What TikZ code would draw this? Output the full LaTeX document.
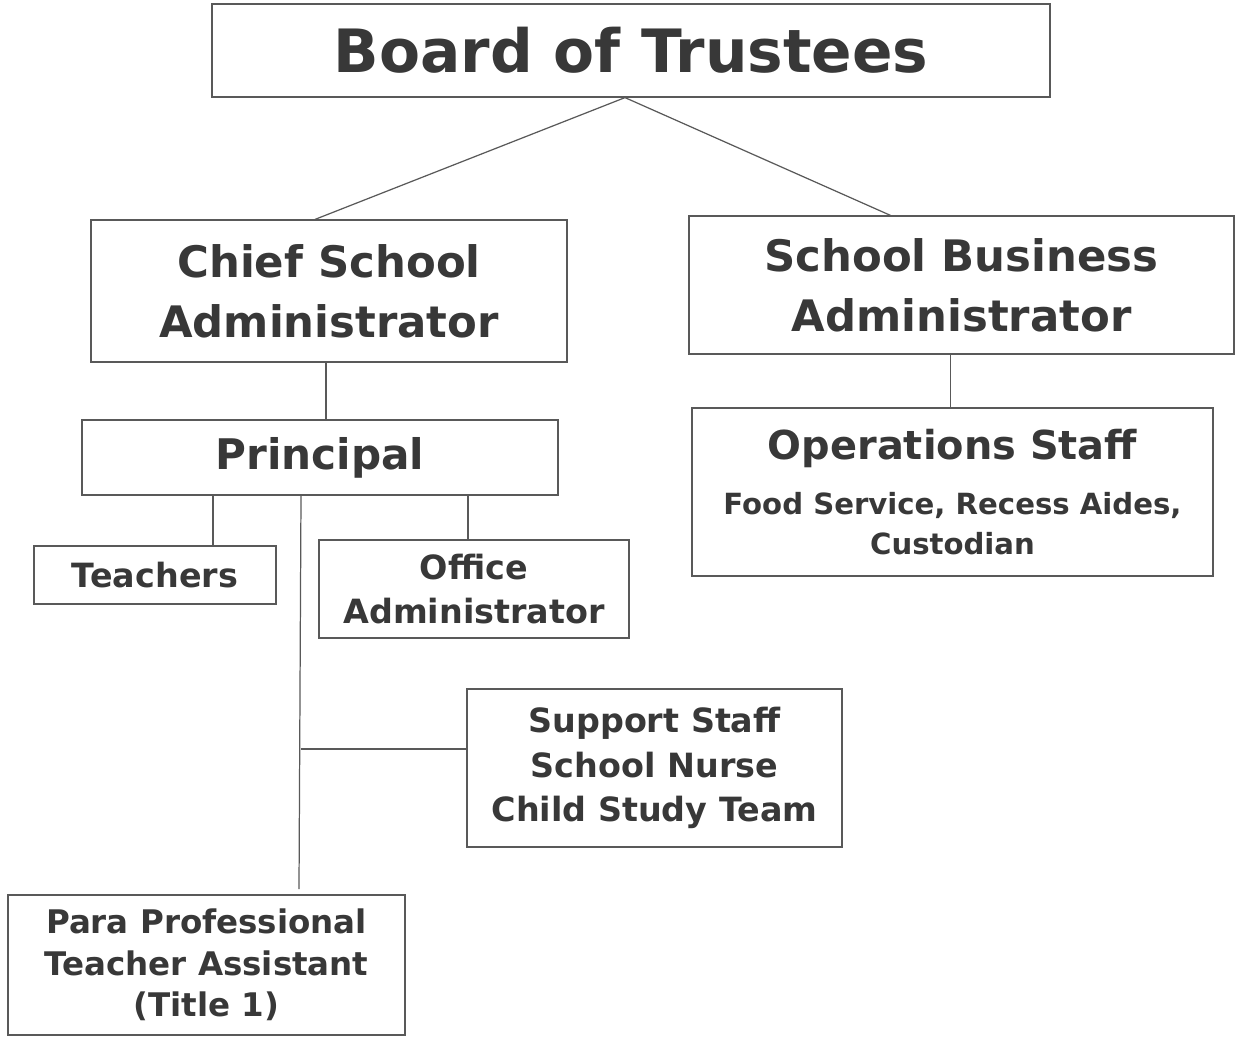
\documentclass[tikz,border=0pt]{standalone}
\usepackage{fontspec}
\setmainfont{DejaVu Sans}
\usetikzlibrary{calc}
\definecolor{ink}{gray}{0.22}
\definecolor{rule}{gray}{0.35}
\tikzset{
	orgbox/.style={draw=rule, line width=0.7pt, inner sep=0pt, align=center, text=ink, font=\bfseries},
	orgline/.style={draw=rule, line width=0.7pt}
}

\begin{document}
\begin{tikzpicture}[x=0.02cm, y=-0.02cm]
				\useasboundingbox (0,0) rectangle (1237,1042);
				
				\node[orgbox, minimum width=16.76cm, minimum height=1.86cm, font=\bfseries\fontsize{34}{40}\selectfont] (board) at (631,50.5) {Board of Trustees};
				
				\node[orgbox, minimum width=9.52cm, minimum height=2.84cm, font=\bfseries\fontsize{24.7}{34}\selectfont] (chief) at (329,291) {Chief School\\Administrator};
				\node[orgbox, minimum width=10.9cm, minimum height=2.76cm, font=\bfseries\fontsize{24.7}{34}\selectfont] (business) at (961.5,285) {School Business\\Administrator};
				
				\node[orgbox, minimum width=9.52cm, minimum height=1.5cm, font=\bfseries\fontsize{24}{28}\selectfont] (principal) at (320,457.5) {Principal};
				\node[orgbox, minimum width=10.42cm, minimum height=3.36cm, font=\bfseries\fontsize{16.6}{22.7}\selectfont] (operations) at (952.5,492) {{\fontsize{22.7}{26}\selectfont Operations Staff}\\[9pt]Food Service, Recess Aides,\\Custodian};
				
				\node[orgbox, minimum width=4.84cm, minimum height=1.16cm, font=\bfseries\fontsize{19}{23}\selectfont] (teachers) at (155,575) {Teachers};
				\node[orgbox, minimum width=6.2cm, minimum height=1.96cm, font=\bfseries\fontsize{19}{25}\selectfont] (office) at (474,589) {Office\\Administrator};
				\node[orgbox, minimum width=7.5cm, minimum height=3.16cm, font=\bfseries\fontsize{19}{25.2}\selectfont] (support) at (654.5,768) {Support Staff\\School Nurse\\Child Study Team};
				\node[orgbox, minimum width=7.94cm, minimum height=2.8cm, font=\bfseries\fontsize{18.5}{23.6}\selectfont] (para) at (206.5,965) {Para Professional\\Teacher Assistant\\(Title 1)};
				
				\coordinate (split) at ($(board.south)+(-6,0)$);
				\coordinate (tTeach) at (213,0);
				\coordinate (tOffice) at (468,0);
				\coordinate (trunk) at (301,0);
				\coordinate (trunkEnd) at (299,889);
				\coordinate (branch) at (301,749);
				
				\draw[orgline] (split) -- ($(chief.north)+(-14,0)$);
				\draw[orgline] (split) -- ($(business.north)+(-71,0)$);
				\draw[orgline] (chief.south -| principal.north) ++(6,0) -- ($(principal.north)+(6,0)$);
				\draw[orgline] ($(business.south)+(-11,0)$) -- ($(operations.north)+(-2,0)$);
				\draw[orgline] (principal.south -| tTeach) -- (teachers.north -| tTeach);
				\draw[orgline] (principal.south -| tOffice) -- (office.north -| tOffice);
				\draw[orgline] (principal.south -| trunk) -- (trunkEnd);
				\draw[orgline] (branch) -- (support.west |- branch);
			\end{tikzpicture}
\end{document}
